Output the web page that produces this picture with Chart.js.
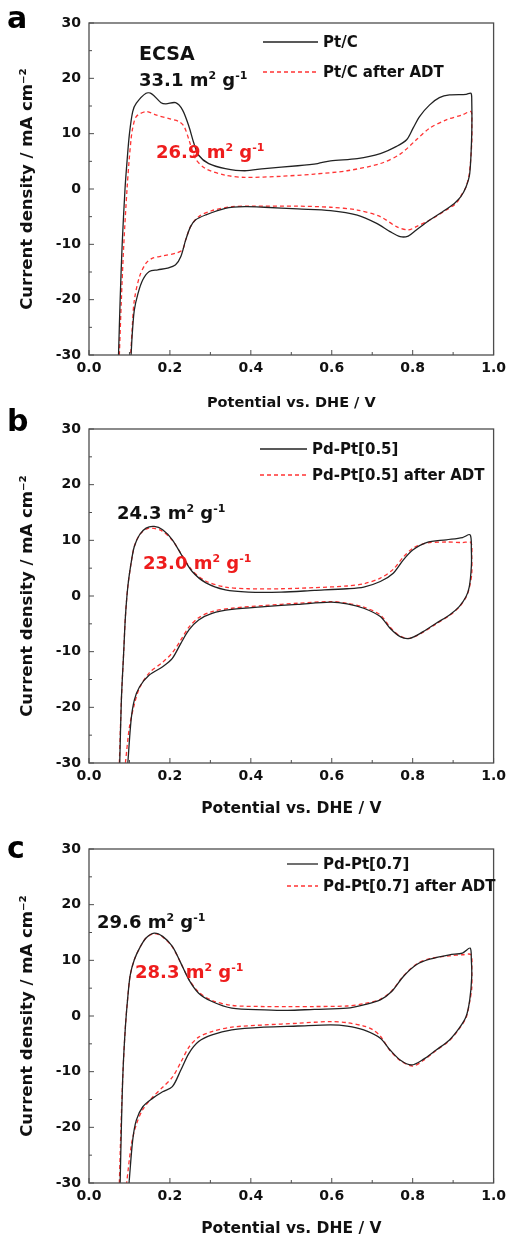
<!DOCTYPE html>
<html>
<head>
<meta charset="utf-8">
<script src="https://cdn.jsdelivr.net/npm/chart.js@4.4.1/dist/chart.umd.min.js"></script>
<style>
    html, body { margin: 0; padding: 0; background: #fff; }
    #wrap { position: relative; width: 511px; height: 1239px; overflow: hidden; }
    #wrap canvas { position: absolute; left: 0; }
</style>
</head>
<body>
<div id="wrap">
    <canvas id="cv-a" width="511" height="415" style="top:0px"></canvas>
    <canvas id="cv-b" width="511" height="415" style="top:405px"></canvas>
    <canvas id="cv-c" width="511" height="419" style="top:820px"></canvas>
</div>
<script>
// --- Axes ---
const X_TICKS = [0, 0.2, 0.4, 0.6, 0.8, 1.0];
const X_MINOR = [0.1, 0.3, 0.5, 0.7, 0.9];
const Y_TICKS = [-30, -20, -10, 0, 10, 20, 30];
const Y_MINOR = [-25, -15, -5, 5, 15, 25];

// --- CV loops: [potential V, current mA cm-2] ---
// (a) Pt/C
const ptcFresh = [
    [0.073, -30], [0.077, -20], [0.082, -10], [0.089, 0], [0.094, 5], [0.100, 10], [0.108, 14],
    [0.117, 15.5], [0.141, 17.3], [0.155, 17.2], [0.178, 15.6], [0.190, 15.4], [0.214, 15.6],
    [0.231, 14.3], [0.247, 11.3], [0.259, 8.3], [0.271, 6.1], [0.296, 4.6], [0.337, 3.7],
    [0.385, 3.3], [0.434, 3.7], [0.516, 4.2], [0.565, 4.6], [0.597, 5.1], [0.663, 5.5],
    [0.720, 6.4], [0.760, 7.7], [0.785, 8.9], [0.801, 11.0], [0.817, 13.1], [0.842, 15.2],
    [0.866, 16.5], [0.891, 17.0], [0.932, 17.1], [0.944, 17.3], [0.946, 16], [0.946, 10],
    [0.941, 2.8], [0.932, 0.4], [0.919, -1.4], [0.903, -2.6], [0.874, -4.1], [0.842, -5.6],
    [0.809, -7.4], [0.789, -8.5], [0.769, -8.6], [0.744, -7.7], [0.711, -6.2], [0.663, -4.7],
    [0.597, -3.9], [0.516, -3.6], [0.434, -3.3], [0.385, -3.2], [0.337, -3.5], [0.288, -4.7],
    [0.263, -5.6], [0.251, -6.8], [0.239, -9.2], [0.227, -12.2], [0.214, -13.7], [0.194, -14.3],
    [0.170, -14.6], [0.149, -14.9], [0.133, -16.4], [0.121, -18.9], [0.112, -21.9], [0.107, -26.1],
    [0.104, -30],
];
const ptcAdt = [
    [0.075, -30], [0.080, -20], [0.086, -10], [0.094, 0], [0.099, 5], [0.104, 9], [0.108, 11],
    [0.117, 13.1], [0.141, 14.0], [0.165, 13.4], [0.198, 12.7], [0.222, 12.2], [0.235, 11.3],
    [0.247, 8.9], [0.263, 5.5], [0.288, 3.7], [0.337, 2.5], [0.385, 2.1], [0.475, 2.3],
    [0.557, 2.7], [0.638, 3.3], [0.720, 4.6], [0.769, 6.3], [0.809, 8.9], [0.842, 11.0],
    [0.883, 12.5], [0.923, 13.4], [0.944, 14.0], [0.946, 11.9], [0.946, 8.3], [0.940, 2.8],
    [0.932, 0.4], [0.923, -0.8], [0.907, -2.6], [0.883, -3.8], [0.850, -5.3], [0.809, -6.8],
    [0.789, -7.4], [0.760, -6.8], [0.720, -5.0], [0.663, -3.8], [0.597, -3.3], [0.516, -3.1],
    [0.402, -3.1], [0.353, -3.2], [0.304, -3.9], [0.271, -5.0], [0.251, -6.8], [0.239, -9.2],
    [0.231, -11.0], [0.214, -11.6], [0.182, -12.1], [0.157, -12.5], [0.141, -13.4], [0.125, -15.8],
    [0.112, -20.1], [0.107, -24.9], [0.103, -30],
];
// (b) Pd-Pt[0.5]
const pd05Fresh = [
    [0.076, -30], [0.080, -18.7], [0.086, -9.7], [0.090, -3.7], [0.096, 1.7], [0.104, 5.9],
    [0.112, 8.9], [0.125, 11.0], [0.141, 12.2], [0.161, 12.5], [0.182, 11.9], [0.206, 10.1],
    [0.231, 7.1], [0.255, 4.4], [0.288, 2.4], [0.337, 1.1], [0.394, 0.7], [0.475, 0.7],
    [0.557, 1.0], [0.638, 1.3], [0.679, 1.6], [0.720, 2.6], [0.752, 4.1], [0.777, 6.5],
    [0.801, 8.3], [0.834, 9.6], [0.883, 10.1], [0.923, 10.5], [0.942, 11.0], [0.945, 8.3],
    [0.945, 5.3], [0.940, 1.7], [0.932, -0.1], [0.915, -1.9], [0.891, -3.4], [0.858, -4.9],
    [0.826, -6.4], [0.793, -7.6], [0.769, -7.3], [0.744, -5.8], [0.720, -3.7], [0.679, -2.2],
    [0.638, -1.4], [0.597, -1.1], [0.516, -1.5], [0.434, -1.9], [0.353, -2.4], [0.304, -3.1],
    [0.271, -4.3], [0.247, -6.1], [0.227, -8.5], [0.206, -11.2], [0.182, -12.7], [0.149, -14.2],
    [0.125, -16.3], [0.112, -18.7], [0.104, -22.3], [0.096, -30],
];
const pd05Adt = [
    [0.075, -30], [0.080, -18.7], [0.086, -9.7], [0.090, -3.7], [0.096, 1.7], [0.104, 5.9],
    [0.112, 8.9], [0.125, 11.0], [0.141, 12.0], [0.155, 12.2], [0.180, 11.7], [0.206, 10.0],
    [0.231, 7.2], [0.255, 4.6], [0.288, 2.7], [0.337, 1.6], [0.394, 1.3], [0.475, 1.3],
    [0.557, 1.5], [0.638, 1.8], [0.679, 2.2], [0.720, 3.2], [0.752, 4.8], [0.777, 7.0],
    [0.801, 8.6], [0.834, 9.5], [0.883, 9.7], [0.923, 9.6], [0.944, 9.6], [0.946, 7.0],
    [0.946, 4.0], [0.940, 1.5], [0.932, -0.2], [0.915, -2.0], [0.891, -3.5], [0.858, -5.0],
    [0.826, -6.5], [0.793, -7.6], [0.769, -7.2], [0.744, -5.6], [0.720, -3.4], [0.679, -2.0],
    [0.638, -1.3], [0.597, -1.0], [0.516, -1.3], [0.434, -1.7], [0.353, -2.2], [0.304, -2.8],
    [0.271, -3.9], [0.247, -5.6], [0.227, -7.9], [0.206, -10.2], [0.182, -11.9], [0.149, -13.8],
    [0.125, -16.5], [0.112, -19.5], [0.100, -23.5], [0.090, -30],
];
// (c) Pd-Pt[0.7]
const pd07Fresh = [
    [0.077, -30], [0.080, -20], [0.084, -10], [0.090, -1.9], [0.096, 3.5], [0.102, 7.4],
    [0.112, 10.1], [0.125, 12.2], [0.141, 14.0], [0.161, 14.9], [0.182, 14.3], [0.206, 12.5],
    [0.227, 9.5], [0.247, 6.5], [0.271, 4.1], [0.304, 2.6], [0.353, 1.4], [0.434, 1.1],
    [0.491, 1.0], [0.557, 1.2], [0.638, 1.4], [0.679, 2.0], [0.720, 2.9], [0.748, 4.4],
    [0.777, 7.1], [0.809, 9.2], [0.842, 10.2], [0.891, 11.0], [0.923, 11.3], [0.942, 12.2],
    [0.945, 10.1], [0.946, 7.1], [0.941, 2.9], [0.932, -0.1], [0.915, -2.2], [0.891, -4.3],
    [0.858, -6.1], [0.826, -7.8], [0.797, -8.8], [0.769, -7.9], [0.744, -6.1], [0.720, -4.0],
    [0.679, -2.5], [0.638, -1.8], [0.597, -1.6], [0.516, -1.8], [0.434, -2.0], [0.353, -2.5],
    [0.304, -3.4], [0.271, -4.6], [0.247, -6.7], [0.227, -9.7], [0.206, -12.7], [0.182, -13.6],
    [0.157, -14.8], [0.133, -16.3], [0.117, -18.7], [0.108, -22.3], [0.099, -30],
];
const pd07Adt = [
    [0.075, -30], [0.079, -20], [0.084, -10], [0.090, -1.9], [0.096, 3.5], [0.102, 7.4],
    [0.112, 10.1], [0.125, 12.2], [0.141, 14.0], [0.161, 14.8], [0.182, 14.2], [0.206, 12.4],
    [0.227, 9.5], [0.247, 6.6], [0.271, 4.3], [0.304, 2.8], [0.353, 1.9], [0.434, 1.7],
    [0.491, 1.7], [0.557, 1.7], [0.638, 1.8], [0.679, 2.2], [0.720, 3.0], [0.748, 4.5],
    [0.777, 7.2], [0.809, 9.3], [0.842, 10.3], [0.891, 10.8], [0.923, 11.0], [0.944, 11.0],
    [0.946, 8.0], [0.946, 5.0], [0.941, 2.6], [0.932, -0.3], [0.915, -2.3], [0.891, -4.4],
    [0.858, -6.2], [0.826, -8.0], [0.800, -9.0], [0.769, -8.0], [0.744, -6.2], [0.720, -3.6],
    [0.700, -2.4], [0.679, -1.8], [0.638, -1.2], [0.597, -1.0], [0.516, -1.3], [0.434, -1.6],
    [0.353, -2.0], [0.304, -2.8], [0.271, -3.8], [0.247, -5.6], [0.227, -8.3], [0.206, -11.0],
    [0.182, -12.8], [0.157, -14.6], [0.133, -16.8], [0.117, -19.5], [0.105, -23], [0.093, -30],
];

// --- Style ---
const FAMILY = "'DejaVu Sans', 'Liberation Sans', sans-serif";
const INK = '#111111';
const C_FRESH = '#222222';
const C_ADT = '#ff3333';
const C_NOTE_RED = '#ee1c1c';

// richText draws [text, isSuperscript] parts starting at x, centred on y.
function richText(ctx, x, y, parts, size, color) {
    ctx.fillStyle = color;
    ctx.textAlign = 'left';
    ctx.textBaseline = 'alphabetic';
    const base = y + size * 0.36;
    let cx = x;
    for (const [t, sup] of parts) {
        const fs = sup ? Math.round(size * 0.62) : size;
        ctx.font = `bold ${fs}px ${FAMILY}`;
        ctx.fillText(t, cx, sup ? base - size * 0.4 : base);
        cx += ctx.measureText(t).width;
    }
}

// panelDecor: frame, inward ticks, legend, annotations and panel letter.
const panelDecor = {
    id: 'panelDecor',
    afterDraw(chart, args, o) {
        const { ctx, chartArea: a, scales: { x, y } } = chart;
        ctx.save();
        ctx.strokeStyle = '#4d4d4d';
        ctx.lineWidth = 1.3;
        ctx.strokeRect(a.left, a.top, a.right - a.left, a.bottom - a.top);

        ctx.lineWidth = 1;
        ctx.beginPath();
        const tickX = (v, len) => { const px = x.getPixelForValue(v); ctx.moveTo(px, a.bottom); ctx.lineTo(px, a.bottom - len); };
        const tickY = (v, len) => { const py = y.getPixelForValue(v); ctx.moveTo(a.left, py); ctx.lineTo(a.left + len, py); };
        X_TICKS.forEach((v) => tickX(v, 5));
        X_MINOR.forEach((v) => tickX(v, 3));
        Y_TICKS.forEach((v) => tickY(v, 5));
        Y_MINOR.forEach((v) => tickY(v, 3));
        ctx.stroke();

        // legend, built from the datasets
        const lg = o.legend;
        chart.data.datasets.forEach((ds, i) => {
            const ly = lg.rows[i];
            ctx.strokeStyle = ds.borderColor;
            ctx.lineWidth = ds.borderWidth;
            ctx.setLineDash(ds.borderDash || []);
            ctx.beginPath();
            ctx.moveTo(lg.x0, ly);
            ctx.lineTo(lg.x1, ly);
            ctx.stroke();
            ctx.setLineDash([]);
            ctx.fillStyle = INK;
            ctx.font = `bold ${lg.size}px ${FAMILY}`;
            ctx.textAlign = 'left';
            ctx.textBaseline = 'middle';
            ctx.fillText(ds.label, lg.tx, ly + 1);
        });

        for (const n of o.notes) richText(ctx, n.x, n.y, n.parts, n.size, n.color);

        ctx.fillStyle = '#000';
        ctx.font = `bold 30px ${FAMILY}`;
        ctx.textAlign = 'left';
        ctx.textBaseline = 'middle';
        ctx.fillText(o.letter.t, 7, o.letter.y);
        ctx.restore();
    },
};

const PANELS = [
    {
        id: 'cv-a', h: 415, top: 23, bottom: 355, xTitleSize: 14.5, xTitlePad: 3,
        series: [['Pt/C', ptcFresh], ['Pt/C after ADT', ptcAdt]],
        legend: { x0: 263, x1: 318, tx: 323, rows: [42, 72], size: 15 },
        letter: { t: 'a', y: 20 },
        notes: [
            { x: 139, y: 53, size: 19, color: INK, parts: [['ECSA', false]] },
            { x: 139, y: 80, size: 18, color: INK, parts: [['33.1 m', false], ['2', true], [' g', false], ['-1', true]] },
            { x: 156, y: 152, size: 18, color: C_NOTE_RED, parts: [['26.9 m', false], ['2', true], [' g', false], ['-1', true]] },
        ],
    },
    {
        id: 'cv-b', h: 415, top: 24, bottom: 358, xTitleSize: 15.5, xTitlePad: 2,
        series: [['Pd-Pt[0.5]', pd05Fresh], ['Pd-Pt[0.5] after ADT', pd05Adt]],
        legend: { x0: 260, x1: 307, tx: 312, rows: [44, 70], size: 15 },
        letter: { t: 'b', y: 18 },
        notes: [
            { x: 117, y: 108, size: 18, color: INK, parts: [['24.3 m', false], ['2', true], [' g', false], ['-1', true]] },
            { x: 143, y: 158, size: 18, color: C_NOTE_RED, parts: [['23.0 m', false], ['2', true], [' g', false], ['-1', true]] },
        ],
    },
    {
        id: 'cv-c', h: 419, top: 29, bottom: 363, xTitleSize: 15.5, xTitlePad: 1,
        series: [['Pd-Pt[0.7]', pd07Fresh], ['Pd-Pt[0.7] after ADT', pd07Adt]],
        legend: { x0: 287, x1: 318, tx: 323, rows: [44, 66], size: 15 },
        letter: { t: 'c', y: 30 },
        notes: [
            { x: 97, y: 102, size: 18, color: INK, parts: [['29.6 m', false], ['2', true], [' g', false], ['-1', true]] },
            { x: 135, y: 152, size: 18, color: C_NOTE_RED, parts: [['28.3 m', false], ['2', true], [' g', false], ['-1', true]] },
        ],
    },
];

function buildPanel(p) {
    const tickFont = { family: FAMILY, size: 14, weight: 'bold' };
    const datasets = p.series.map(([label, pts], i) => ({
        label,
        data: pts.map(([vx, vy]) => ({ x: vx, y: vy })),
        showLine: true,
        borderColor: i === 0 ? C_FRESH : C_ADT,
        borderWidth: 1.3,
        borderDash: i === 0 ? [] : [4, 3],
        pointRadius: 0,
        tension: 0.3,
        fill: false,
    }));
    return new Chart(document.getElementById(p.id), {
        type: 'scatter',
        data: { datasets },
        options: {
            responsive: false,
            animation: false,
            events: [],
            layout: { padding: { top: p.top, right: 13, left: 0, bottom: 0 } },
            plugins: {
                legend: { display: false },
                tooltip: { enabled: false },
                panelDecor: { legend: p.legend, notes: p.notes, letter: p.letter },
            },
            scales: {
                x: {
                    type: 'linear', min: 0, max: 1,
                    afterBuildTicks: (s) => { s.ticks = X_TICKS.map((v) => ({ value: v })); },
                    afterFit: (s) => { s.height = p.h - p.bottom; },
                    grid: { display: false, drawTicks: false },
                    border: { display: false },
                    ticks: { padding: 5, color: INK, font: tickFont, maxRotation: 0, autoSkip: false, callback: (v) => Number(v).toFixed(1) },
                    title: {
                        display: true, text: 'Potential vs. DHE / V', color: INK,
                        font: { family: FAMILY, size: p.xTitleSize, weight: 'bold' },
                        padding: { top: 0, bottom: p.xTitlePad },
                    },
                },
                y: {
                    type: 'linear', min: -30, max: 30,
                    afterBuildTicks: (s) => { s.ticks = Y_TICKS.map((v) => ({ value: v })); },
                    afterFit: (s) => { s.width = 89; },
                    grid: { display: false, drawTicks: false },
                    border: { display: false },
                    ticks: { padding: 8, color: INK, font: tickFont, autoSkip: false, callback: (v) => String(v) },
                    title: {
                        display: true, text: 'Current density / mA cm⁻²', color: INK,
                        font: { family: FAMILY, size: 16.5, weight: 'bold' },
                        padding: { top: 18, bottom: 0 },
                    },
                },
            },
        },
        plugins: [panelDecor],
    });
}

PANELS.forEach(buildPanel);
</script>
</body>
</html>
